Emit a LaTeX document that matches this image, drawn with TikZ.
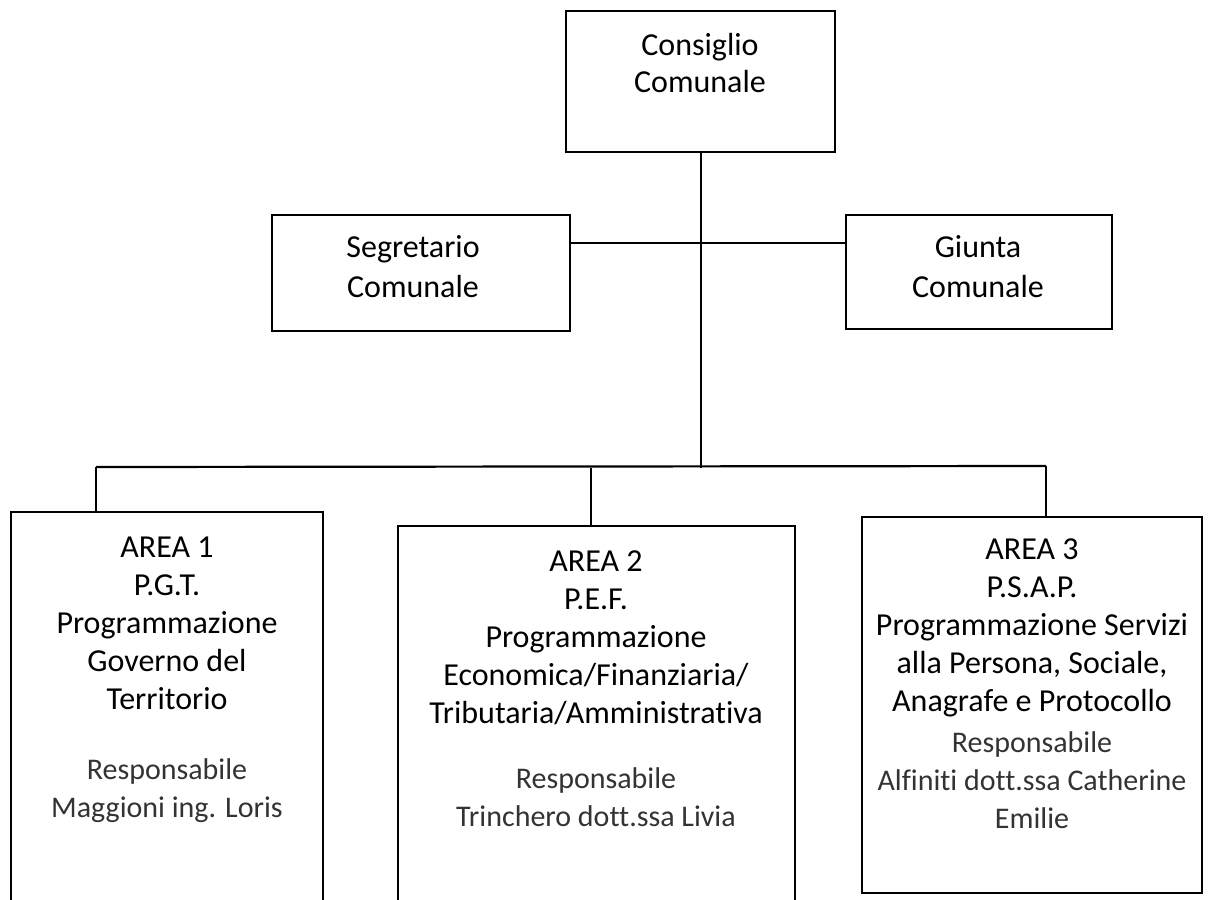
\documentclass[tikz,border=0pt]{standalone}
\usepackage{fontspec}
\setmainfont{Carlito}[Ligatures={NoCommon,NoRare}]
\usetikzlibrary{fit}
\begin{document}
\begin{tikzpicture}[x=0.5pt,y=-0.5pt,
  box/.style={draw,line width=1.1pt,inner sep=0pt,rectangle},
  conn/.style={line width=1.1pt},
  txt/.style={align=center,inner sep=0pt,font=\fontsize{16}{19}\selectfont},
  resp/.style={txt,text=black!80,font=\fontsize{15}{19}\selectfont}]
\useasboundingbox (0,0) rectangle (1229,899);
\clip (0,0) rectangle (1229,899);
% boxes
\node[box,fit={(566,11) (835,152)}] (cons) {};
\node[box,fit={(272,215) (570,331)}] (seg) {};
\node[box,fit={(846,215) (1112,329)}] (giu) {};
\node[box,fit={(11,512) (323,920)}] (a1) {};
\node[box,fit={(398,526) (795,920)}] (a2) {};
\node[box,fit={(862,517) (1202,893)}] (a3) {};
% texts
\node[txt,font=\fontsize{16}{18.5}\selectfont] (ctext) at (700,63.5) {Consiglio\\Comunale};
\node[txt,font=\fontsize{16}{20}\selectfont] (stext) at (413,266.5) {Segretario\\Comunale};
\node[txt,font=\fontsize{16}{20}\selectfont] (gtext) at (978,266.5) {Giunta\\Comunale};
\node[txt] (a1t) at (167,623.5) {AREA 1\\P.G.T.\\Programmazione\\Governo del\\Territorio};
\node[resp] (a1r) at (167,791) {Responsabile\\Maggioni ing. Loris};
\node[txt] (a2t) at (596,638) {AREA 2\\P.E.F.\\Programmazione\\Economica/Finanziaria/\\Tributaria/Amministrativa};
\node[resp] (a2r) at (596,797.5) {Responsabile\\Trinchero dott.ssa Livia};
\node[txt] (a3t) at (1032,628) {AREA 3\\P.S.A.P.\\Programmazione Servizi\\alla Persona, Sociale,\\Anagrafe e Protocollo};
\node[resp] (a3r) at (1032,780) {Responsabile\\Alfiniti dott.ssa Catherine\\Emilie};
% connectors
\coordinate (hl) at (701,243);
\coordinate (bus) at (701,468);
\coordinate (t1) at (96,467);
\coordinate (t2) at (591,468);
\coordinate (t3) at (1046,466);
\draw[conn] (seg.east |- hl) -- (giu.west |- hl);
\draw[conn] (cons.south -| bus) -- (bus);
\draw[conn] (t1) -- (t3);
\draw[conn] (t1) -- (t1 |- a1.north);
\draw[conn] (t2) -- (t2 |- a2.north);
\draw[conn] (t3) -- (t3 |- a3.north);
\end{tikzpicture}
\end{document}
